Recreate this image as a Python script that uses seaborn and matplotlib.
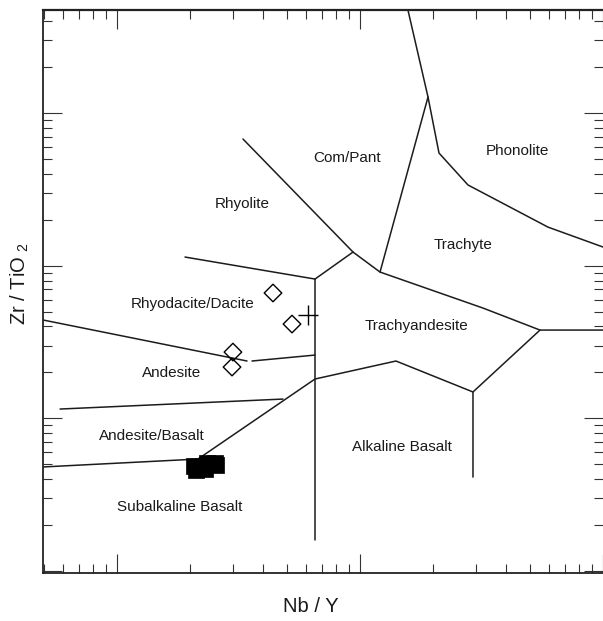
import numpy as np
import matplotlib
matplotlib.use("Agg")
import matplotlib.pyplot as plt
from matplotlib.ticker import LogLocator, NullFormatter
import seaborn as sns

# Classification field boundaries (Nb/Y, Zr/TiO2), one polyline each
phonolite_x = [1.575, 1.905, 2.114, 2.782, 5.94, 10.0]
phonolite_y = [4.73, 1.273, 0.547, 0.338, 0.179, 0.1326]

compant_trachyte_x = [1.905, 1.209]
compant_trachyte_y = [1.273, 0.0909]

rhyolite_upper_x = [0.330, 0.936, 1.209, 3.21, 5.505, 10.0]
rhyolite_upper_y = [0.6757, 0.1229, 0.0909, 0.0528, 0.0379, 0.0379]

junction_x = [0.936, 0.653]
junction_y = [0.1229, 0.0818]

rhyolite_lower_x = [0.1905, 0.653]
rhyolite_lower_y = [0.114, 0.0818]

alkali_divide_x = [0.653, 0.653]
alkali_divide_y = [0.0818, 0.0016]

trachyandesite_right_x = [5.505, 2.917, 2.917]
trachyandesite_right_y = [0.0379, 0.0149, 0.00413]

trachyandesite_lower_x = [2.917, 1.406, 0.653, 0.2154]
trachyandesite_lower_y = [0.0149, 0.02377, 0.01812, 0.00542]

basalt_upper_x = [0.0497, 0.2154]
basalt_upper_y = [0.00481, 0.00542]

andesite_basalt_x = [0.0583, 0.482]
andesite_basalt_y = [0.01152, 0.01339]

andesite_top_a_x = [0.0497, 0.3428]
andesite_top_a_y = [0.0441, 0.02377]

andesite_top_b_x = [0.3594, 0.653]
andesite_top_b_y = [0.02377, 0.026]

boundaries = [
    (phonolite_x, phonolite_y),
    (compant_trachyte_x, compant_trachyte_y),
    (rhyolite_upper_x, rhyolite_upper_y),
    (junction_x, junction_y),
    (rhyolite_lower_x, rhyolite_lower_y),
    (alkali_divide_x, alkali_divide_y),
    (trachyandesite_right_x, trachyandesite_right_y),
    (trachyandesite_lower_x, trachyandesite_lower_y),
    (basalt_upper_x, basalt_upper_y),
    (andesite_basalt_x, andesite_basalt_y),
    (andesite_top_a_x, andesite_top_a_y),
    (andesite_top_b_x, andesite_top_b_y),
]

# Samples
felsic_nby = [0.4385, 0.525, 0.300, 0.2974]
felsic_zrti = [0.0663, 0.0415, 0.0272, 0.0217]

cross_nby = [0.611]
cross_zrti = [0.0475]

basalt_nby = [0.2074, 0.2346, 0.2531, 0.2114, 0.2302, 0.2555]
basalt_zrti = [0.00488, 0.0051, 0.0051, 0.00459, 0.00466, 0.00495]

# Field names and their anchor points
field_names = ["Com/Pant", "Phonolite", "Rhyolite", "Trachyte",
               "Rhyodacite/Dacite", "Trachyandesite", "Andesite",
               "Andesite/Basalt", "Subalkaline Basalt", "Alkaline Basalt"]
field_x = [0.884, 4.43, 0.3268, 2.653, 0.2055, 1.716, 0.1684, 0.1393, 0.1816, 1.489]
field_y = [0.507, 0.564, 0.2535, 0.1366, 0.0561, 0.0403, 0.01983, 0.00767, 0.00263, 0.0065]

sns.set_style("white")
plt.rcParams["font.family"] = ["Liberation Sans", "DejaVu Sans"]
plt.rcParams["mathtext.fontset"] = "custom"
plt.rcParams["mathtext.rm"] = "Liberation Sans"

fig = plt.figure(figsize=(6.03, 6.21), dpi=100)
ax = fig.add_axes([43 / 603, 48 / 621, 560 / 603, 563 / 621])
ax.set_xscale("log")
ax.set_yscale("log")
ax.set_xlim(0.0496, 10.0)
ax.set_ylim(0.000972, 4.73)

line_color = "#1c1c1c"
for bx, by in boundaries:
    sns.lineplot(x=bx, y=by, ax=ax, sort=False, estimator=None,
                 color=line_color, linewidth=1.1)

sns.scatterplot(x=felsic_nby, y=felsic_zrti, ax=ax, marker="D", s=80,
                facecolor="none", edgecolor="black", linewidth=1.0, zorder=3)
sns.scatterplot(x=cross_nby, y=cross_zrti, ax=ax, marker="+", s=190,
                color="black", linewidth=1.0, zorder=3)
sns.scatterplot(x=basalt_nby, y=basalt_zrti, ax=ax, marker="s", s=125,
                color="black", edgecolor="black", linewidth=0.5, zorder=3)

for name, fx, fy in zip(field_names, field_x, field_y):
    ax.text(fx, fy, name, ha="center", va="center", fontsize=11, color="#1a1a1a")

for side in ["left", "bottom", "top"]:
    ax.spines[side].set_color("#222222")
    ax.spines[side].set_linewidth(1.3)
ax.spines["top"].set_linewidth(1.6)
ax.spines["right"].set_visible(False)

for axis in (ax.xaxis, ax.yaxis):
    axis.set_major_locator(LogLocator(base=10))
    axis.set_minor_locator(LogLocator(base=10, subs=np.arange(2, 10)))
    axis.set_minor_formatter(NullFormatter())

ax.tick_params(which="both", direction="in", top=True, right=True,
               bottom=True, left=True, labelbottom=False, labelleft=False,
               color="#333333", width=0.8)
ax.tick_params(which="major", length=13.5)
ax.tick_params(which="minor", length=6.5)

ax.set_xlabel("Nb / Y", fontsize=14.5, color="#1a1a1a")
ax.xaxis.set_label_coords(0.479, -0.043)
ax.set_ylabel("Zr / TiO $_2$", fontsize=14.5, color="#1a1a1a")
ax.yaxis.set_label_coords(-0.021, 0.515)

fig.savefig("out.png", dpi=100)
